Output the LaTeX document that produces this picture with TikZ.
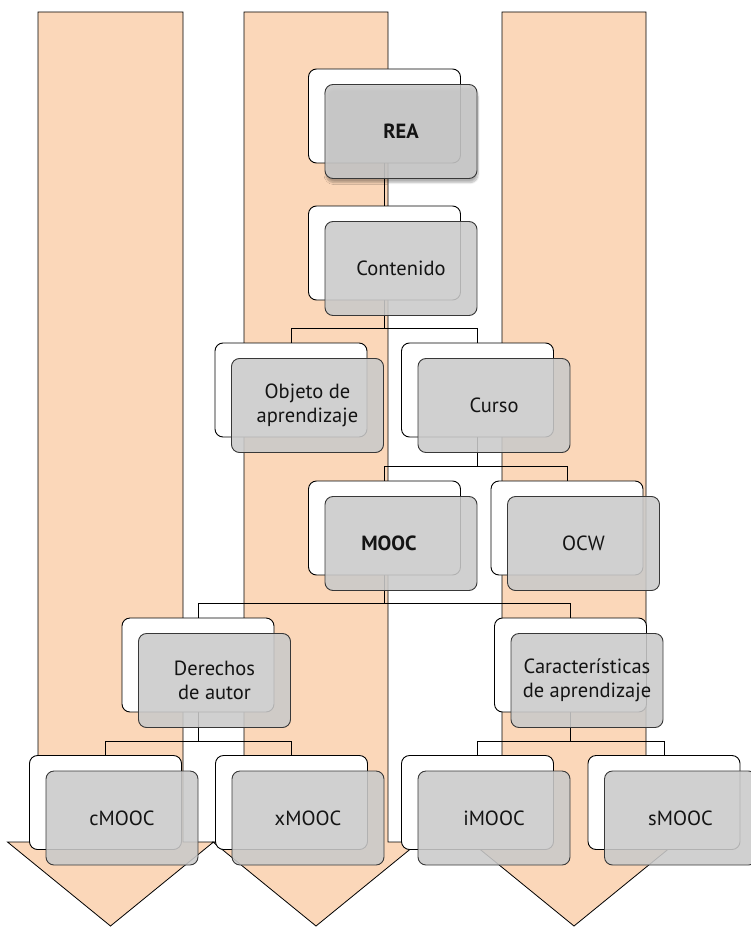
\documentclass[tikz,border=0pt]{standalone}
\usepackage{fontspec}
\setmainfont{PT Sans}
\usetikzlibrary{shadows.blur}
\definecolor{durazno}{RGB}{251,215,185}
\definecolor{gris}{RGB}{202,202,202}
\definecolor{texto}{RGB}{20,20,20}
\pgfdeclarelayer{fondo}
\pgfdeclarelayer{lineas}
\pgfsetlayers{fondo,lineas,main}

\begin{document}
\begin{tikzpicture}[
    x=1pt, y=-1pt,
    back/.style={draw, line width=0.9pt, rounded corners=8pt, fill=white,
        minimum width=152pt, minimum height=94pt},
    front/.style={draw=black!78, line width=0.9pt, rounded corners=8pt,
        fill=gris, fill opacity=0.88, text opacity=1, text=texto,
        minimum width=152pt, minimum height=94pt, align=center,
        font=\fontsize{20.5}{24}\selectfont},
    flecha/.style={draw, line width=0.8pt, fill=durazno},
    linea/.style={draw, line width=0.9pt}
]
\useasboundingbox (0,0) rectangle (751,928);

% Nodos: rectangulo blanco detras, rectangulo gris delante
\node[back] (rea-b) at (384.5,116) {};
\node[front, blur shadow={shadow xshift=1pt, shadow yshift=-4pt, shadow blur steps=8, shadow opacity=35}]
    (rea) at ([shift={(16.5,15.5)}]rea-b) {\bfseries REA};

\node[back] (cont-b) at (384.5,253) {};
\node[front] (cont) at ([shift={(16.5,15.5)}]cont-b) {Contenido};

\node[back] (obj-b) at (291,390) {};
\node[front] (obj) at ([shift={(16.5,15.5)}]obj-b) {Objeto de\\aprendizaje};
\node[back] (curso-b) at (477.5,390) {};
\node[front] (curso) at ([shift={(16.5,15.5)}]curso-b) {Curso};

\node[back] (mooc-b) at (384.5,528) {};
\node[front] (mooc) at ([shift={(16.5,15.5)}]mooc-b) {\bfseries MOOC\hspace*{24pt}};
\node[back] (ocw-b) at (567,528) {};
\node[front] (ocw) at ([shift={(16.5,15.5)}]ocw-b) {OCW};

\node[back] (der-b) at (198,665) {};
\node[front] (der) at ([shift={(16.5,15.5)}]der-b) {Derechos\\de autor};
\node[back] (car-b) at (570.5,665) {};
\node[front] (car) at ([shift={(16.5,15.5)}]car-b) {Características\\de aprendizaje};

\node[back] (cm-b) at (105.5,802.5) {};
\node[front] (cm) at ([shift={(16.5,15.5)}]cm-b) {cMOOC};
\node[back] (xm-b) at (291.5,802.5) {};
\node[front] (xm) at ([shift={(16.5,15.5)}]xm-b) {xMOOC};
\node[back] (im-b) at (477.5,802.5) {};
\node[front] (im) at ([shift={(16.5,15.5)}]im-b) {iMOOC};
\node[back] (sm-b) at (664,802.5) {};
\node[front] (sm) at ([shift={(16.5,15.5)}]sm-b) {sMOOC};

% Conectores del arbol
\begin{pgfonlayer}{lineas}
\draw[linea] (rea-b.south) -- (cont-b.north);
\draw[linea] (obj-b.north) -- ++(0,-14) -| (cont-b.south);
\draw[linea] (curso-b.north) -- ++(0,-14) -| (cont-b.south);
\draw[linea] (mooc-b.north) -- ++(0,-14) -| (curso-b.south);
\draw[linea] (ocw-b.north) -- ++(0,-14) -| (curso-b.south);
\draw[linea] (der-b.north) -- ++(0,-14) -| (mooc-b.south);
\draw[linea] (car-b.north) -- ++(0,-14) -| (mooc-b.south);
\draw[linea] (cm-b.north) -- ++(0,-14) -| (der-b.south);
\draw[linea] (xm-b.north) -- ++(0,-14) -| (der-b.south);
\draw[linea] (im-b.north) -- ++(0,-14) -| (car-b.south);
\draw[linea] (sm-b.north) -- ++(0,-14) -| (car-b.south);
\end{pgfonlayer}

% Flechas grandes del fondo
\begin{pgfonlayer}{fondo}
\path[flecha] (38,12) -- (183,12) -- (183,842) -- (213.5,842) -- (110.5,926)
    -- (7.5,842) -- (38,842) -- cycle;
\path[flecha] (244,12) -- (388,12) -- (388,842) -- (419,842) -- (316,926)
    -- (213,842) -- (244,842) -- cycle;
\path[flecha] (502,12) -- (646,12) -- (646,842) -- (677,842) -- (574,926)
    -- (471,842) -- (502,842) -- cycle;
\end{pgfonlayer}
\end{tikzpicture}
\end{document}
